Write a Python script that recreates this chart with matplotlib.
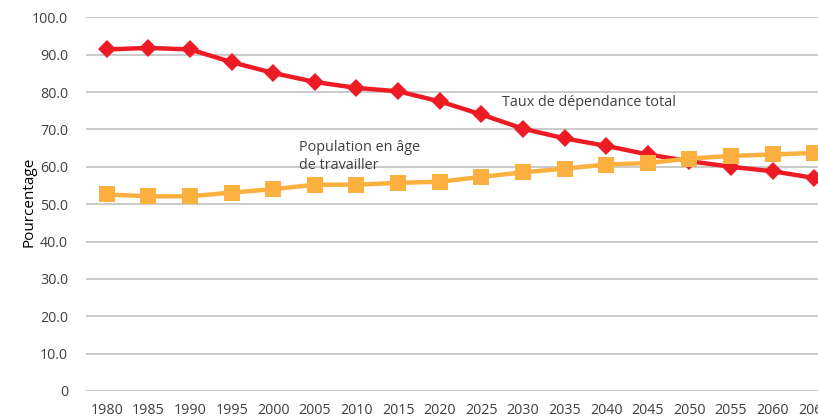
import matplotlib
matplotlib.use("Agg")
import matplotlib.pyplot as plt
import numpy as np

years = [1980, 1985, 1990, 1995, 2000, 2005, 2010, 2015, 2020, 2025, 2030,
         2035, 2040, 2045, 2050, 2055, 2060, 2065]
taux_dependance = [91.4, 91.8, 91.4, 88.0, 85.1, 82.7, 81.1, 80.2, 77.5, 74.0,
                   70.2, 67.6, 65.6, 63.3, 61.5, 60.0, 58.8, 57.0]
pop_age_travail = [52.6, 52.1, 52.1, 53.1, 54.0, 55.2, 55.2, 55.7, 56.0, 57.3,
                   58.5, 59.5, 60.6, 61.0, 62.2, 62.9, 63.3, 63.7]
y_ticks = [0, 10, 20, 30, 40, 50, 60, 70, 80, 90, 100]
y_ticklabels = ["0", "10.0", "20.0", "30.0", "40.0", "50.0", "60.0", "70.0",
                "80.0", "90.0", "100.0"]

plt.rcParams['font.family'] = ['Open Sans', 'DejaVu Sans']

W, H = 818, 419
fig = plt.figure(figsize=(W / 100, H / 100), dpi=100)
left_px, right_px = 86, 835
top_px, bot_px = 17.3, 391
ax = fig.add_axes([left_px / W, 1 - bot_px / H, (right_px - left_px) / W,
                   (bot_px - top_px) / H])

x = np.arange(len(years))
ax.plot(x, taux_dependance, color='#ED1C24', lw=3.2, marker='D', ms=9,
        markeredgewidth=0, zorder=3, clip_on=False)
ax.plot(x, pop_age_travail, color='#FBB040', lw=3.2, marker='s', ms=12,
        markeredgewidth=0, zorder=4, clip_on=False)

ax.set_xlim(-0.5, len(years) - 0.5)
ax.set_ylim(0, 100)
ax.set_yticks(y_ticks)
ax.set_yticklabels(y_ticklabels)
ax.set_xticks(x)
ax.set_xticklabels([str(y) for y in years])
ax.tick_params(axis='both', length=0, labelsize=10.3, colors='#404040')
ax.tick_params(axis='y', pad=13)
ax.tick_params(axis='x', pad=9)
ax.grid(axis='y', color='#bdbdbd', lw=1.1)
ax.set_axisbelow(True)
for s in ax.spines.values():
    s.set_visible(False)

ax.set_ylabel("Pourcentage", fontsize=11, color='#000000')
ax.yaxis.set_label_coords((36 - left_px) / (right_px - left_px), 0.505)

ax.text(9.5, 77.1, "Taux de dépendance total", fontsize=10.4, color='#404040',
        va='center', ha='left')
ax.text(4.63, 62.7, "Population en âge\nde travailler", fontsize=10.4,
        color='#404040', va='center', ha='left', linespacing=1.3)

fig.savefig("out.png", dpi=100)
